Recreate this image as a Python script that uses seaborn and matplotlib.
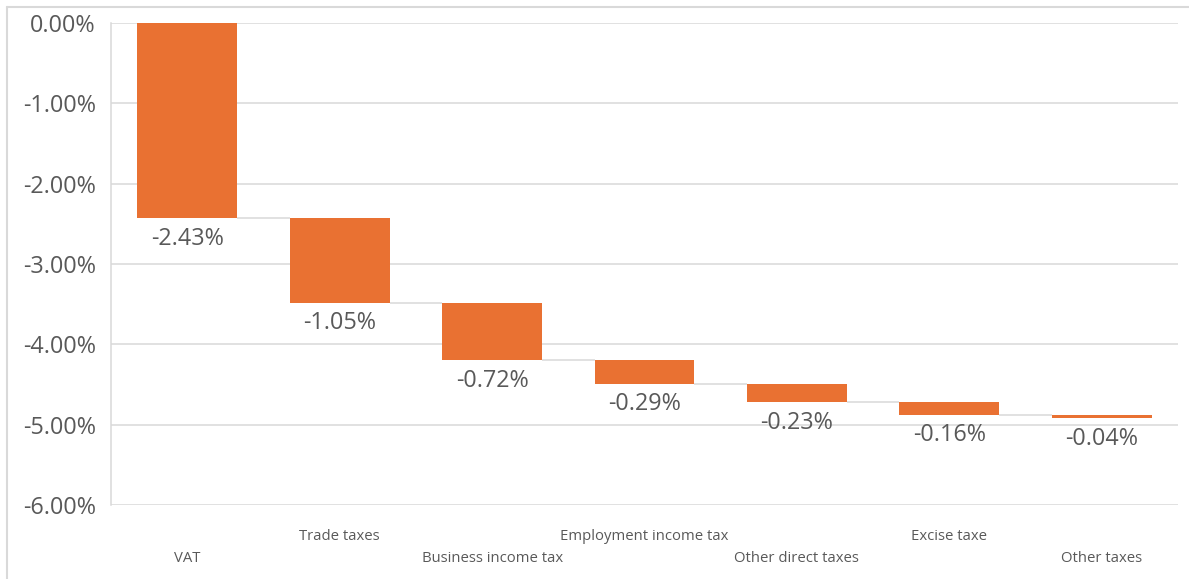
import numpy as np
import pandas as pd
import matplotlib
matplotlib.use("Agg")
import matplotlib.pyplot as plt
from matplotlib.lines import Line2D
from matplotlib.ticker import FuncFormatter
import seaborn as sns

# Contribution of each tax to the change (percentage points)
categories = ["VAT", "Trade taxes", "Business income tax", "Employment income tax",
              "Other direct taxes", "Excise taxe", "Other taxes"]
changes = [-2.43, -1.05, -0.72, -0.29, -0.23, -0.16, -0.04]
y_ticks = [0, -1, -2, -3, -4, -5, -6]

ends = np.cumsum(changes)
starts = np.concatenate([[0.0], ends[:-1]])
df = pd.DataFrame({"category": categories, "change": changes, "start": starts, "end": ends})

sns.set_theme(style="white")
plt.rcParams["font.family"] = ["Open Sans", "DejaVu Sans"]

BAR = "#E97132"
GRID = "#D9D9D9"
TEXT = "#595959"

fig = plt.figure(figsize=(11.89, 5.79), dpi=100)
ax = fig.add_axes([111 / 1189, 1 - 505 / 579, (1178 - 111) / 1189, (505 - 23) / 579])

sns.barplot(data=df, x="category", y="change", order=categories, color=BAR,
            saturation=1, width=0.656, bottom=df["start"].to_numpy(), ax=ax,
            linewidth=0, zorder=3)

ax.set_xlim(-0.5, len(categories) - 0.5)
ax.set_ylim(-6, 0)
ax.set_yticks(y_ticks)
ax.yaxis.set_major_formatter(FuncFormatter(lambda v, _: f"{v:.2f}%"))
ax.grid(axis="y", color=GRID, linewidth=1.1, zorder=0)
ax.grid(axis="x", visible=False)
for side in ["top", "right", "bottom"]:
    ax.spines[side].set_visible(False)
ax.spines["left"].set_color(GRID)
ax.spines["left"].set_linewidth(1.1)
ax.tick_params(axis="y", length=0, pad=11, labelsize=16.8, labelcolor=TEXT)
ax.tick_params(axis="x", length=0, labelbottom=False)
ax.set_xlabel("")
ax.set_ylabel("")

# Connector lines between consecutive bars
half = 0.656 / 2
for i in range(len(categories) - 1):
    ax.plot([i + half, i + 1 - half], [ends[i], ends[i]], color=GRID,
            linewidth=1.1, zorder=2, solid_capstyle="butt")

# Value labels under each bar
for i, (v, e) in enumerate(zip(changes, ends)):
    ax.annotate(f"{v:.2f}%", (i, e), xytext=(0, -6), textcoords="offset points",
                ha="center", va="top", fontsize=16.8, color=TEXT, zorder=4)

# Staggered category labels
xt = ax.get_xaxis_transform()
for i, name in enumerate(categories):
    y = -0.112 if i % 2 == 0 else -0.066
    ax.text(i, y, name, transform=xt, ha="center", va="center",
            fontsize=10.7, color=TEXT, clip_on=False)

# Frame edges along the top and left of the figure
fig.add_artist(Line2D([7 / 1189, 1], [1 - 7 / 579, 1 - 7 / 579], color=GRID,
                      linewidth=1.5, transform=fig.transFigure))
fig.add_artist(Line2D([7 / 1189, 7 / 1189], [0, 1 - 7 / 579], color=GRID,
                      linewidth=1.5, transform=fig.transFigure))

fig.savefig("out.png", dpi=100)
